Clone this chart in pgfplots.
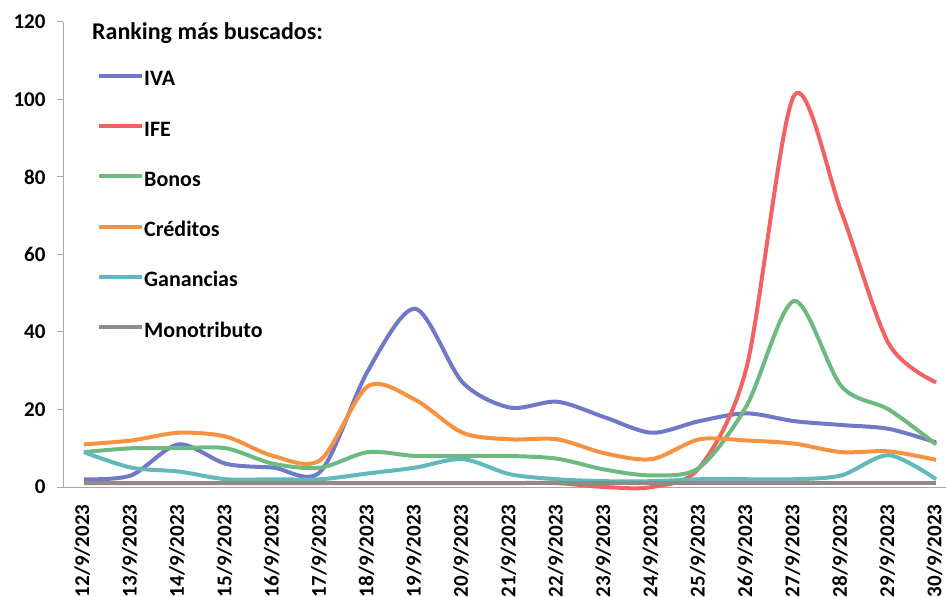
\documentclass[border=0pt]{standalone}
\usepackage{fontspec}
\setmainfont{Carlito}
\usepackage{pgfplots}
\pgfplotsset{compat=1.18}
\definecolor{cIVA}{HTML}{7078C8}
\definecolor{cIFE}{HTML}{F26262}
\definecolor{cBon}{HTML}{6DBA80}
\definecolor{cCre}{HTML}{F79240}
\definecolor{cGan}{HTML}{62B8BA}
\definecolor{cMon}{HTML}{948888}
\definecolor{cAx}{HTML}{A6A6A6}
\newcommand{\ff}{\fontsize{21bp}{22bp}\selectfont\bfseries}
\newcommand{\fl}{\fontsize{22bp}{23bp}\selectfont\bfseries}
\newcommand{\ft}{\fontsize{24bp}{25bp}\selectfont\bfseries}
\begin{document}
\begin{tikzpicture}
\useasboundingbox (0,0) rectangle (946bp,597bp);
\begin{axis}[
  at={(63bp,110bp)}, anchor=south west,
  scale only axis, width=883bp, height=465bp,
  xmin=-0.44, xmax=18.21, ymin=0, ymax=120,
  clip=false,
  axis x line*=bottom, axis y line*=left,
  axis line style={draw=cAx, line width=1bp},
  ytick={0,20,...,120},
  xtick={0,...,18},
  xticklabels={12/9/2023,13/9/2023,14/9/2023,15/9/2023,16/9/2023,17/9/2023,18/9/2023,19/9/2023,20/9/2023,21/9/2023,22/9/2023,23/9/2023,24/9/2023,25/9/2023,26/9/2023,27/9/2023,28/9/2023,29/9/2023,30/9/2023},
  /pgf/number format/assume math mode=true,
  tick align=outside,
  major tick length=6bp,
  ytick style={draw=cAx, line width=1bp},
  xtick style={draw=none},
  yticklabel style={font=\ff, xshift=-8bp},
  xticklabel style={font=\ff, rotate=90, anchor=east, xshift=-8bp, yshift=1.5bp},
  legend style={at={(axis description cs:0.0385,0.8935)}, anchor=north west,
    draw=none, fill=none, font=\fl, inner sep=0pt, row sep=32.3bp,
    nodes={inner sep=0pt, text height=14bp, text depth=4bp}},
  legend cell align=left,
  /tikz/every odd column/.style={column sep=0bp},
  legend image code/.code={\draw[#1, line width=4bp] (0bp,5bp) -- (43bp,5bp);},
  every axis plot/.append style={line width=4bp, smooth, tension=0.5},
]
\addplot[cIVA] coordinates {(0,2) (1,3) (2,11) (3,6) (4,5) (5,4) (6,30) (7,46) (8,27) (9,20.5) (10,22) (11,18) (12,14) (13,17) (14,19) (15,17) (16,16) (17,15) (18,11.5)};
\addlegendentry{IVA}
\addplot[cIFE] coordinates {(0,1) (1,1) (2,1) (3,1) (4,1) (5,1) (6,1) (7,1) (8,1) (9,1) (10,1) (11,0) (12,0) (13,5) (14,31) (15,101) (16,71) (17,37) (18,27)};
\addlegendentry{IFE}
\addplot[cBon] coordinates {(0,9) (1,10) (2,10) (3,10) (4,6) (5,5) (6,9) (7,8) (8,8) (9,8) (10,7.3) (11,4.5) (12,3) (13,5) (14,21) (15,48) (16,26) (17,20) (18,11)};
\addlegendentry{Bonos}
\addplot[cCre] coordinates {(0,11) (1,12) (2,14) (3,13) (4,8) (5,7) (6,26) (7,22.5) (8,14) (9,12.3) (10,12.3) (11,8.7) (12,7.2) (13,12.3) (14,12) (15,11.2) (16,9) (17,9.2) (18,7)};
\addlegendentry{Créditos}
\addplot[cGan] coordinates {(0,9) (1,5) (2,4) (3,2) (4,2) (5,2) (6,3.5) (7,5) (8,7.2) (9,3.3) (10,2) (11,1.5) (12,1.5) (13,2) (14,2) (15,2) (16,3) (17,8.2) (18,2)};
\addlegendentry{Ganancias}
\addplot[cMon] coordinates {(0,1) (1,1) (2,1) (3,1) (4,1) (5,1) (6,1) (7,1) (8,1) (9,1) (10,1) (11,1) (12,1) (13,1) (14,1) (15,1) (16,1) (17,1) (18,1)};
\addlegendentry{Monotributo}
\node[anchor=base west, font=\ft, inner sep=0pt] at (axis description cs:0.0328,0.9634) {Ranking más buscados:};
\end{axis}
\end{tikzpicture}
\end{document}
